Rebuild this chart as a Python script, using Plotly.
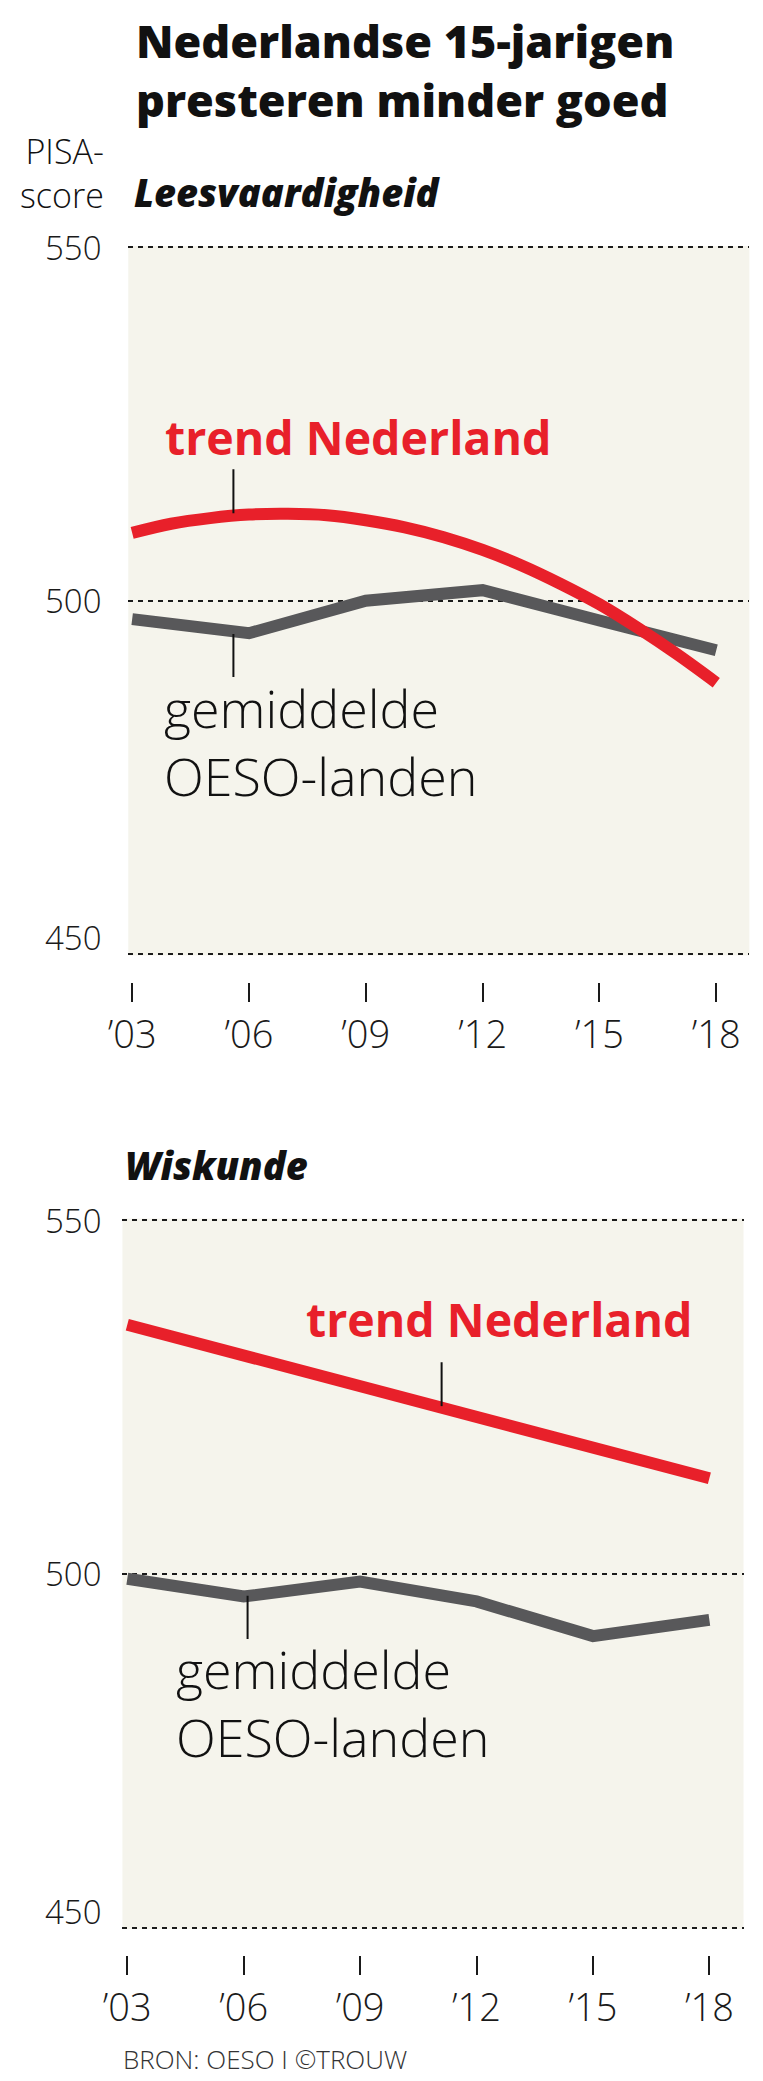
import plotly.graph_objects as go

# PISA-scores
jaren = [2003, 2006, 2009, 2012, 2015, 2018]
jaar_labels = ["’03", "’06", "’09", "’12", "’15", "’18"]

# Leesvaardigheid
lees_oeso = [497.4, 495.4, 500.0, 501.5, 497.2, 493.0]
lees_trend_jaren = list(range(2003, 2019))
lees_trend_nl = [509.6, 510.9, 511.7, 512.2, 512.3, 512.1, 511.4, 510.4,
                 509.0, 507.2, 505.0, 502.4, 499.5, 496.1, 492.4, 488.4]

# Wiskunde
wisk_oeso = [499.3, 496.8, 498.9, 496.1, 491.2, 493.5]
wisk_trend_jaren = [2003, 2018]
wisk_trend_nl = [535.2, 513.5]

# de pagina heeft 8px marge, dus figuur iets kleiner dan het venster
W, H = 755, 2073
ROOD = "#e8202a"
GRIJS = "#58585a"
BEIGE = "#f5f4ec"
FONT = "Open Sans"
PAD = 0.2  # beetje ruimte zodat de stippellijnen op 450 en 550 getekend worden


def px(p):
    return p / W


def py(p):
    return 1 - p / H


def ydom(p550, p450):
    per = (p450 - p550) / 100
    return [py(p450 + PAD * per), py(p550 - PAD * per)]


fig = go.Figure()

fig.add_trace(go.Scatter(x=jaren, y=lees_oeso, mode="lines",
                         line=dict(color=GRIJS, width=12), xaxis="x", yaxis="y"))
fig.add_trace(go.Scatter(x=lees_trend_jaren, y=lees_trend_nl, mode="lines",
                         line=dict(color=ROOD, width=12, shape="spline"),
                         xaxis="x", yaxis="y"))
fig.add_trace(go.Scatter(x=jaren, y=wisk_oeso, mode="lines",
                         line=dict(color=GRIJS, width=12), xaxis="x2", yaxis="y2"))
fig.add_trace(go.Scatter(x=wisk_trend_jaren, y=wisk_trend_nl, mode="lines",
                         line=dict(color=ROOD, width=12), xaxis="x2", yaxis="y2"))

xas = dict(tickvals=jaren, ticktext=jaar_labels, ticks="outside", ticklen=19,
           tickwidth=2, tickcolor="#1a1a1a", showgrid=False, zeroline=False,
           showline=False, anchor="free", ticklabelstandoff=0,
           tickfont=dict(family=FONT, size=38, color="#1a1a1a", weight=300))
yas = dict(range=[450 - PAD, 550 + PAD], tickvals=[450, 500, 550],
           showticklabels=False, showgrid=True, gridcolor="#1a1a1a",
           gridwidth=2, griddash="5px,5px", zeroline=False, showline=False,
           ticks="")

fig.update_layout(
    width=W, height=H,
    margin=dict(l=0, r=0, t=0, b=0),
    paper_bgcolor="white", plot_bgcolor=BEIGE,
    showlegend=False,
    xaxis=dict(xas, domain=[px(103), px(741)], range=[2002.9, 2018.85],
               position=py(974)),
    yaxis=dict(yas, domain=ydom(239.5, 946)),
    xaxis2=dict(xas, domain=[px(97), px(735)], range=[2002.875, 2018.88],
                position=py(1947)),
    yaxis2=dict(yas, domain=ydom(1212, 1919.7), anchor="x2"),
)

annos = []


def tekst(t, x, y, size, weight=300, color="#111111", italic=False,
          xanchor="left", yanchor="middle"):
    annos.append(dict(text=t, x=px(x), y=py(y), xref="paper", yref="paper",
                      xanchor=xanchor, yanchor=yanchor, showarrow=False,
                      align=xanchor,
                      font=dict(family=FONT, size=size, color=color,
                                weight=weight,
                                style="italic" if italic else "normal")))


tekst("Nederlandse 15-jarigen<br>presteren minder goed", 109, 0, 45,
      weight=800, yanchor="top")
tekst("PISA-<br>score", 80, 165, 34, xanchor="right")
tekst("Leesvaardigheid", 107, 184, 38, weight=800, italic=True)
tekst("Wiskunde", 98, 1157, 38, weight=800, italic=True)
tekst("trend Nederland", 139, 429, 46.5, weight=700, color=ROOD)
tekst("trend Nederland", 284, 1311, 46.5, weight=700, color=ROOD)
tekst("gemiddelde<br>OESO-landen", 138, 733, 52)
tekst("gemiddelde<br>OESO-landen", 150, 1694, 52)
tekst("BRON: OESO I ©TROUW", 96, 2051, 26, color="#333333")

# y-as labels
for ya in ["y", "y2"]:
    for v in [550, 500, 450]:
        annos.append(dict(text=str(v), x=px(78), y=v, xref="paper", yref=ya,
                          xanchor="right",
                          yanchor="bottom" if v == 450 else "middle",
                          yshift=-8 if v == 450 else 0, showarrow=False,
                          font=dict(family=FONT, size=33, color="#1a1a1a",
                                    weight=300)))

fig.update_layout(annotations=annos)

# verwijslijntjes bij de labels
lijn = dict(color="#111111", width=2)
fig.add_shape(type="line", xref="x", yref="y", x0=2005.6, x1=2005.6,
              y0=518.6, y1=512.4, line=lijn)
fig.add_shape(type="line", xref="x", yref="y", x0=2005.6, x1=2005.6,
              y0=495.3, y1=489.2, line=lijn)
fig.add_shape(type="line", xref="x2", yref="y2", x0=2011.1, x1=2011.1,
              y0=529.9, y1=523.7, line=lijn)
fig.add_shape(type="line", xref="x2", yref="y2", x0=2006.1, x1=2006.1,
              y0=496.9, y1=490.8, line=lijn)

fig.write_html("out.html")
